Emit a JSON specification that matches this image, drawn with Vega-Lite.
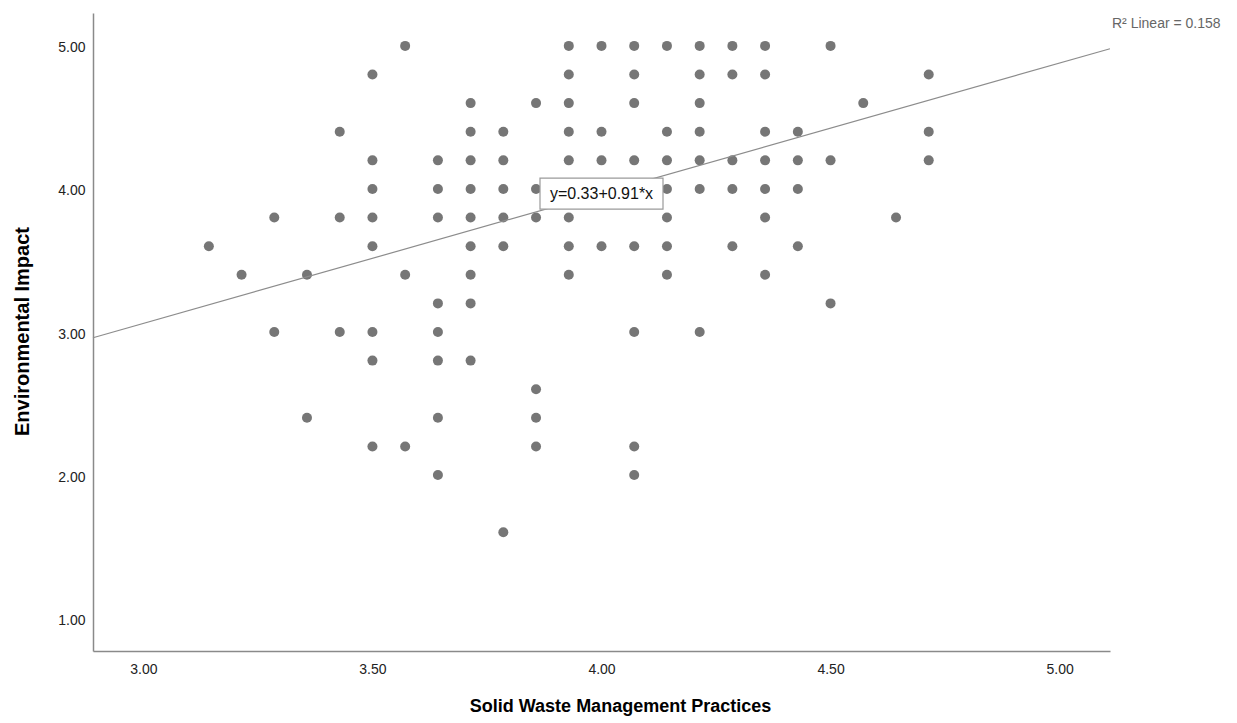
{
  "$schema": "https://vega.github.io/schema/vega-lite/v6.json",
  "width": 1017,
  "height": 638,
  "autosize": "none",
  "padding": {"left": 93, "top": 13, "right": 127, "bottom": 72},
  "background": "white",
  "config": {"view": {"stroke": null}, "font": "Liberation Sans"},
  "datasets": {
    "points": [
      {"wm": 3.1429, "ei": 3.6},
      {"wm": 3.2143, "ei": 3.4},
      {"wm": 3.2857, "ei": 3.8}, {"wm": 3.2857, "ei": 3.0},
      {"wm": 3.3571, "ei": 3.4}, {"wm": 3.3571, "ei": 2.4},
      {"wm": 3.4286, "ei": 4.4}, {"wm": 3.4286, "ei": 3.8}, {"wm": 3.4286, "ei": 3.0},
      {"wm": 3.5, "ei": 4.8}, {"wm": 3.5, "ei": 4.2}, {"wm": 3.5, "ei": 4.0}, {"wm": 3.5, "ei": 3.8}, {"wm": 3.5, "ei": 3.6}, {"wm": 3.5, "ei": 3.0}, {"wm": 3.5, "ei": 2.8}, {"wm": 3.5, "ei": 2.2},
      {"wm": 3.5714, "ei": 5.0}, {"wm": 3.5714, "ei": 3.4}, {"wm": 3.5714, "ei": 2.2},
      {"wm": 3.6429, "ei": 4.2}, {"wm": 3.6429, "ei": 4.0}, {"wm": 3.6429, "ei": 3.8}, {"wm": 3.6429, "ei": 3.2}, {"wm": 3.6429, "ei": 3.0}, {"wm": 3.6429, "ei": 2.8}, {"wm": 3.6429, "ei": 2.4}, {"wm": 3.6429, "ei": 2.0},
      {"wm": 3.7143, "ei": 4.6}, {"wm": 3.7143, "ei": 4.4}, {"wm": 3.7143, "ei": 4.2}, {"wm": 3.7143, "ei": 4.0}, {"wm": 3.7143, "ei": 3.8}, {"wm": 3.7143, "ei": 3.6}, {"wm": 3.7143, "ei": 3.4}, {"wm": 3.7143, "ei": 3.2}, {"wm": 3.7143, "ei": 2.8},
      {"wm": 3.7857, "ei": 4.4}, {"wm": 3.7857, "ei": 4.2}, {"wm": 3.7857, "ei": 4.0}, {"wm": 3.7857, "ei": 3.8}, {"wm": 3.7857, "ei": 3.6}, {"wm": 3.7857, "ei": 1.6},
      {"wm": 3.8571, "ei": 4.6}, {"wm": 3.8571, "ei": 4.0}, {"wm": 3.8571, "ei": 3.8}, {"wm": 3.8571, "ei": 2.6}, {"wm": 3.8571, "ei": 2.4}, {"wm": 3.8571, "ei": 2.2},
      {"wm": 3.9286, "ei": 5.0}, {"wm": 3.9286, "ei": 4.8}, {"wm": 3.9286, "ei": 4.6}, {"wm": 3.9286, "ei": 4.4}, {"wm": 3.9286, "ei": 4.2}, {"wm": 3.9286, "ei": 4.0}, {"wm": 3.9286, "ei": 3.8}, {"wm": 3.9286, "ei": 3.6}, {"wm": 3.9286, "ei": 3.4},
      {"wm": 4.0, "ei": 5.0}, {"wm": 4.0, "ei": 4.4}, {"wm": 4.0, "ei": 4.2}, {"wm": 4.0, "ei": 3.6},
      {"wm": 4.0714, "ei": 5.0}, {"wm": 4.0714, "ei": 4.8}, {"wm": 4.0714, "ei": 4.6}, {"wm": 4.0714, "ei": 4.2}, {"wm": 4.0714, "ei": 4.0}, {"wm": 4.0714, "ei": 3.6}, {"wm": 4.0714, "ei": 3.0}, {"wm": 4.0714, "ei": 2.2}, {"wm": 4.0714, "ei": 2.0},
      {"wm": 4.1429, "ei": 5.0}, {"wm": 4.1429, "ei": 4.4}, {"wm": 4.1429, "ei": 4.2}, {"wm": 4.1429, "ei": 4.0}, {"wm": 4.1429, "ei": 3.8}, {"wm": 4.1429, "ei": 3.6}, {"wm": 4.1429, "ei": 3.4},
      {"wm": 4.2143, "ei": 5.0}, {"wm": 4.2143, "ei": 4.8}, {"wm": 4.2143, "ei": 4.6}, {"wm": 4.2143, "ei": 4.4}, {"wm": 4.2143, "ei": 4.2}, {"wm": 4.2143, "ei": 4.0}, {"wm": 4.2143, "ei": 3.0},
      {"wm": 4.2857, "ei": 5.0}, {"wm": 4.2857, "ei": 4.8}, {"wm": 4.2857, "ei": 4.2}, {"wm": 4.2857, "ei": 4.0}, {"wm": 4.2857, "ei": 3.6},
      {"wm": 4.3571, "ei": 5.0}, {"wm": 4.3571, "ei": 4.8}, {"wm": 4.3571, "ei": 4.4}, {"wm": 4.3571, "ei": 4.2}, {"wm": 4.3571, "ei": 4.0}, {"wm": 4.3571, "ei": 3.8}, {"wm": 4.3571, "ei": 3.4},
      {"wm": 4.4286, "ei": 4.4}, {"wm": 4.4286, "ei": 4.2}, {"wm": 4.4286, "ei": 4.0}, {"wm": 4.4286, "ei": 3.6},
      {"wm": 4.5, "ei": 5.0}, {"wm": 4.5, "ei": 4.2}, {"wm": 4.5, "ei": 3.2},
      {"wm": 4.5714, "ei": 4.6},
      {"wm": 4.6429, "ei": 3.8},
      {"wm": 4.7143, "ei": 4.8}, {"wm": 4.7143, "ei": 4.4}, {"wm": 4.7143, "ei": 4.2}
    ],
    "fit": [
      {"wm": 2.89, "ei": 2.96},
      {"wm": 5.11, "ei": 4.98}
    ],
    "eq": [
      {"wm": 4.0, "ei": 3.967, "label": "y=0.33+0.91*x"}
    ],
    "r2": [
      {"wm": 5.11, "ei": 5.15, "label": "R² Linear = 0.158"}
    ]
  },
  "layer": [
    {
      "data": {"name": "points"},
      "mark": {"type": "point", "filled": true, "size": 100, "color": "#767676", "opacity": 1},
      "encoding": {
        "x": {
          "field": "wm", "type": "quantitative",
          "title": "Solid Waste Management Practices",
          "scale": {"domain": [2.89, 5.11], "nice": false, "zero": false},
          "axis": {
            "values": [3, 3.5, 4, 4.5, 5], "format": ".2f", "ticks": false, "grid": false,
            "domainColor": "#8a8a8a", "domainWidth": 1.5,
            "labelFontSize": 14, "labelColor": "#222222", "labelPadding": 11,
            "titleFontSize": 18, "titleFontWeight": "bold", "titleColor": "#000000",
            "titleX": 527, "titleY": 55, "titleBaseline": "middle", "titleAlign": "center"
          }
        },
        "y": {
          "field": "ei", "type": "quantitative",
          "title": "Environmental Impact",
          "scale": {"domain": [0.77, 5.23], "nice": false, "zero": false},
          "axis": {
            "values": [1, 2, 3, 4, 5], "format": ".2f", "ticks": false, "grid": false,
            "domainColor": "#8a8a8a", "domainWidth": 1.5,
            "labelFontSize": 14, "labelColor": "#222222", "labelPadding": 8, "labelOffset": 2,
            "titleFontSize": 20, "titleFontWeight": "bold", "titleColor": "#000000",
            "titleX": -71, "titleY": 318, "titleBaseline": "middle", "titleAlign": "center", "titleAngle": -90
          }
        }
      }
    },
    {
      "data": {"name": "fit"},
      "mark": {"type": "line", "color": "#8c8c8c", "strokeWidth": 1.2},
      "encoding": {
        "x": {"field": "wm", "type": "quantitative"},
        "y": {"field": "ei", "type": "quantitative"}
      }
    },
    {
      "data": {"name": "eq"},
      "mark": {"type": "point", "shape": "M-1,-0.252L1,-0.252L1,0.252L-1,0.252Z", "size": 15129, "filled": false, "fill": "white", "fillOpacity": 1, "stroke": "#9a9a9a", "strokeWidth": 1.2, "opacity": 1},
      "encoding": {
        "x": {"field": "wm", "type": "quantitative"},
        "y": {"field": "ei", "type": "quantitative"}
      }
    },
    {
      "data": {"name": "eq"},
      "mark": {"type": "text", "fontSize": 16, "color": "#111111", "align": "center", "baseline": "middle"},
      "encoding": {
        "x": {"field": "wm", "type": "quantitative"},
        "y": {"field": "ei", "type": "quantitative"},
        "text": {"field": "label"}
      }
    },
    {
      "data": {"name": "r2"},
      "mark": {"type": "text", "fontSize": 14, "color": "#666666", "align": "left", "baseline": "middle", "dx": 2},
      "encoding": {
        "x": {"field": "wm", "type": "quantitative"},
        "y": {"field": "ei", "type": "quantitative"},
        "text": {"field": "label"}
      }
    }
  ]
}
